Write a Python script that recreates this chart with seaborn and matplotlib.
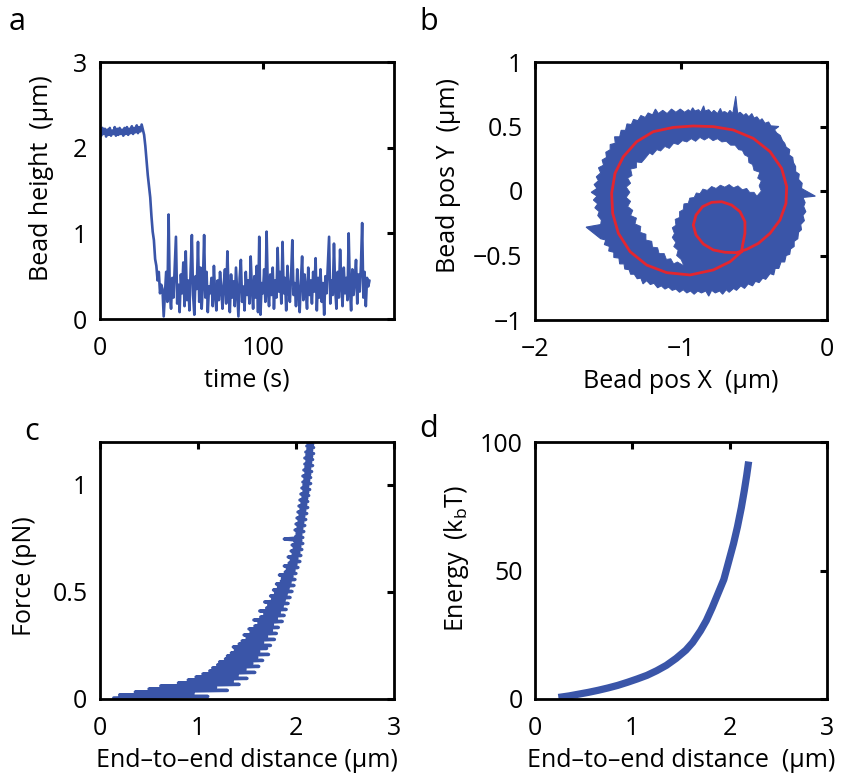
import numpy as np
import pandas as pd
import matplotlib
matplotlib.use("Agg")
import matplotlib.pyplot as plt
import seaborn as sns
from matplotlib.ticker import FixedLocator, FuncFormatter

# ---------------- data ----------------
# panel a: bead height (um), sampled every 0.75 s
a_dt = 0.75
a_plateau = [2.21, 2.14, 2.23, 2.16, 2.22, 2.13, 2.21, 2.15, 2.23, 2.14,
             2.20, 2.16, 2.24, 2.14, 2.22, 2.15, 2.23, 2.16, 2.21, 2.14,
             2.23, 2.16, 2.24, 2.15, 2.22, 2.17, 2.25, 2.16, 2.23, 2.18,
             2.26, 2.17, 2.24, 2.19, 2.27, 2.21]
a_drop = [2.15, 2.02, 1.85, 1.68, 1.55, 1.42, 1.20, 1.02, 0.92, 0.70,
          0.62, 0.45, 0.55, 0.30, 0.40]
a_bound = [0.35, 0.03, 0.28, 0.55, 0.20, 1.22, 0.30, 0.12, 0.48, 0.25,
           0.62, 0.96, 0.18, 0.40, 0.08, 0.52, 0.30, 0.66, 0.15, 0.79,
           0.22, 0.45, 0.10, 0.58, 0.98, 0.28, 0.05, 0.50, 0.35, 0.90,
           0.20, 0.60, 0.12, 0.42, 0.98, 0.25, 0.55, 0.08, 0.38, 0.30,
           0.48, 0.15, 0.62, 0.28, 0.10, 0.45, 0.22, 0.55, 0.35, 0.12,
           0.40, 0.58, 0.18, 0.79, 0.30, 0.08, 0.52, 0.25, 0.44, 0.15,
           0.60, 0.32, 0.03, 0.48, 0.69, 0.20, 0.38, 0.10, 0.55, 0.28,
           0.45, 0.18, 0.73, 0.35, 0.12, 0.50, 0.25, 0.62, 0.08, 0.96,
           0.05, 0.42, 0.30, 0.58, 0.20, 1.02, 0.35, 0.15, 0.52, 0.28,
           0.60, 0.12, 0.45, 0.25, 0.83, 0.32, 0.55, 0.18, 0.90, 0.30,
           0.48, 0.10, 0.62, 0.35, 0.20, 0.50, 0.92, 0.28, 0.42, 0.15,
           0.58, 0.30, 0.08, 0.45, 0.73, 0.22, 0.52, 0.35, 0.12, 0.60,
           0.28, 0.45, 0.18, 0.55, 0.32, 0.71, 0.10, 0.48, 0.25, 0.58,
           0.20, 0.42, 0.05, 0.50, 0.30, 0.62, 0.96, 0.18, 0.45, 0.28,
           0.88, 0.35, 0.12, 0.55, 0.25, 0.81, 0.40, 0.15, 0.60, 0.30,
           0.48, 0.22, 1.00, 0.35, 0.10, 0.58, 0.28, 0.45, 0.69, 0.18,
           0.52, 0.32, 0.62, 1.12, 0.25, 0.55, 0.15, 0.48, 0.38, 0.45]

# panel b: region swept by the bead (outer edge, inner hole) and fitted spiral (um)
b_outer = [(-0.95, 0.63), (-0.935, 0.615), (-0.92, 0.645), (-0.905, 0.62), (-0.88, 0.63),
           (-0.865, 0.61), (-0.845, 0.66), (-0.835, 0.62), (-0.81, 0.63), (-0.79, 0.605),
           (-0.775, 0.625), (-0.75, 0.60), (-0.73, 0.64), (-0.72, 0.61), (-0.70, 0.615),
           (-0.68, 0.60), (-0.665, 0.625), (-0.645, 0.60), (-0.625, 0.735), (-0.612, 0.60),
           (-0.595, 0.61), (-0.57, 0.585), (-0.555, 0.60), (-0.535, 0.575), (-0.515, 0.60),
           (-0.50, 0.565), (-0.48, 0.575), (-0.46, 0.545), (-0.445, 0.56), (-0.425, 0.525),
           (-0.40, 0.535), (-0.385, 0.505), (-0.33, 0.50), (-0.36, 0.475), (-0.345, 0.45),
           (-0.32, 0.43), (-0.305, 0.39), (-0.29, 0.37), (-0.28, 0.34), (-0.255, 0.32),
           (-0.26, 0.28), (-0.235, 0.26), (-0.23, 0.22), (-0.215, 0.19), (-0.215, 0.15),
           (-0.19, 0.13), (-0.195, 0.09), (-0.17, 0.06), (-0.175, 0.02), (-0.08, -0.04),
           (-0.165, -0.05), (-0.15, -0.09), (-0.16, -0.12), (-0.145, -0.16), (-0.165, -0.19),
           (-0.155, -0.23), (-0.18, -0.26), (-0.175, -0.30), (-0.195, -0.32), (-0.20, -0.37),
           (-0.225, -0.39), (-0.225, -0.43), (-0.25, -0.45), (-0.255, -0.49), (-0.28, -0.50),
           (-0.29, -0.55), (-0.315, -0.55), (-0.33, -0.60), (-0.355, -0.60), (-0.365, -0.65),
           (-0.39, -0.64), (-0.42, -0.685), (-0.44, -0.675), (-0.465, -0.71), (-0.49, -0.70),
           (-0.51, -0.735), (-0.54, -0.72), (-0.565, -0.755), (-0.59, -0.735), (-0.62, -0.77),
           (-0.64, -0.755), (-0.67, -0.785), (-0.69, -0.765), (-0.715, -0.80), (-0.735, -0.775),
           (-0.765, -0.79), (-0.79, -0.77), (-0.81, -0.815), (-0.83, -0.775), (-0.86, -0.79),
           (-0.885, -0.775), (-0.91, -0.80), (-0.935, -0.775), (-0.96, -0.79), (-0.985, -0.765),
           (-1.01, -0.785), (-1.035, -0.76), (-1.06, -0.77), (-1.085, -0.745), (-1.11, -0.76),
           (-1.135, -0.735), (-1.16, -0.75), (-1.185, -0.715), (-1.21, -0.725), (-1.235, -0.695),
           (-1.26, -0.72), (-1.275, -0.675), (-1.30, -0.68), (-1.32, -0.645), (-1.345, -0.645),
           (-1.355, -0.61), (-1.385, -0.605), (-1.39, -0.565), (-1.42, -0.565), (-1.425, -0.52),
           (-1.46, -0.515), (-1.46, -0.475), (-1.495, -0.465), (-1.49, -0.43), (-1.525, -0.415),
           (-1.515, -0.38), (-1.55, -0.37), (-1.65, -0.28), (-1.55, -0.26), (-1.545, -0.225),
           (-1.57, -0.19), (-1.56, -0.16), (-1.59, -0.13), (-1.57, -0.10), (-1.60, -0.07),
           (-1.575, -0.04), (-1.615, -0.01), (-1.575, 0.02), (-1.595, 0.05), (-1.565, 0.08),
           (-1.58, 0.11), (-1.55, 0.14), (-1.565, 0.18), (-1.53, 0.20), (-1.54, 0.24),
           (-1.51, 0.26), (-1.515, 0.30), (-1.485, 0.32), (-1.485, 0.36), (-1.45, 0.37),
           (-1.455, 0.42), (-1.42, 0.42), (-1.41, 0.47), (-1.38, 0.47), (-1.37, 0.52),
           (-1.34, 0.515), (-1.325, 0.555), (-1.295, 0.545), (-1.275, 0.585), (-1.245, 0.57),
           (-1.225, 0.605), (-1.195, 0.59), (-1.175, 0.635), (-1.155, 0.60), (-1.125, 0.625),
           (-1.095, 0.60), (-1.065, 0.635), (-1.035, 0.61), (-1.005, 0.635), (-0.975, 0.61)]
b_hole = [(-1.24, 0.26), (-1.215, 0.295), (-1.195, 0.28), (-1.165, 0.32), (-1.14, 0.31),
          (-1.11, 0.345), (-1.08, 0.33), (-1.05, 0.37), (-1.02, 0.36), (-0.99, 0.39),
          (-0.96, 0.38), (-0.93, 0.405), (-0.90, 0.385), (-0.87, 0.415), (-0.84, 0.395),
          (-0.81, 0.415), (-0.78, 0.39), (-0.75, 0.405), (-0.72, 0.38), (-0.69, 0.385),
          (-0.66, 0.355), (-0.63, 0.355), (-0.605, 0.32), (-0.58, 0.315), (-0.565, 0.28),
          (-0.54, 0.265), (-0.535, 0.22), (-0.51, 0.205), (-0.50, 0.16), (-0.46, 0.145),
          (-0.475, 0.10), (-0.45, 0.08), (-0.465, 0.04), (-0.45, 0.00), (-0.48, -0.04),
          (-0.50, -0.01), (-0.53, -0.01), (-0.55, 0.02), (-0.58, 0.01), (-0.61, 0.04),
          (-0.64, 0.025), (-0.67, 0.05), (-0.70, 0.03), (-0.73, 0.045), (-0.76, 0.02),
          (-0.79, 0.035), (-0.82, 0.005), (-0.85, 0.015), (-0.87, -0.02), (-0.895, -0.015),
          (-0.91, -0.05), (-0.94, -0.055), (-0.95, -0.095), (-0.98, -0.10), (-0.985, -0.145),
          (-1.01, -0.16), (-1.01, -0.205), (-1.04, -0.22), (-1.035, -0.265), (-1.06, -0.285),
          (-1.045, -0.33), (-1.06, -0.36), (-1.035, -0.40), (-1.05, -0.43), (-1.02, -0.46),
          (-1.03, -0.50), (-1.00, -0.53), (-0.98, -0.58), (-1.025, -0.55), (-1.05, -0.565),
          (-1.07, -0.525), (-1.10, -0.53), (-1.115, -0.485), (-1.15, -0.485), (-1.16, -0.44),
          (-1.195, -0.435), (-1.20, -0.39), (-1.24, -0.38), (-1.24, -0.335), (-1.28, -0.32),
          (-1.275, -0.275), (-1.315, -0.255), (-1.305, -0.21), (-1.345, -0.19), (-1.33, -0.15),
          (-1.365, -0.12), (-1.345, -0.08), (-1.375, -0.05), (-1.35, -0.01), (-1.375, 0.03),
          (-1.345, 0.06), (-1.365, 0.10), (-1.335, 0.12), (-1.345, 0.17), (-1.305, 0.18),
          (-1.305, 0.225), (-1.27, 0.22)]
b_fit_x = [-0.585, -0.664, -0.779, -0.938, -1.098, -1.235, -1.349, -1.429, -1.468, -1.475,
           -1.452, -1.395, -1.304, -1.190, -1.053, -0.916, -0.779, -0.642, -0.505, -0.390,
           -0.311, -0.276, -0.281, -0.322, -0.390, -0.470, -0.550, -0.619, -0.699, -0.779,
           -0.847, -0.897, -0.916, -0.897, -0.852, -0.790, -0.721, -0.653, -0.596, -0.562,
           -0.562, -0.578, -0.585]
b_fit_y = [-0.470, -0.548, -0.612, -0.651, -0.633, -0.574, -0.470, -0.328, -0.173, -0.018,
           0.137, 0.266, 0.382, 0.460, 0.493, 0.504, 0.499, 0.473, 0.408, 0.305,
           0.176, 0.034, -0.096, -0.225, -0.328, -0.406, -0.452, -0.478, -0.475, -0.457,
           -0.411, -0.341, -0.264, -0.186, -0.121, -0.088, -0.083, -0.109, -0.160, -0.238,
           -0.328, -0.419, -0.470]

# panel c: end-to-end distance (um) for forces stepping 0.005 .. 1.195 pN
c_f_start, c_f_step = 0.005, 0.007
c_dist = [0.14, 1.10, 0.20, 0.95, 0.36, 1.30, 0.50, 1.18, 0.62, 1.42,
          0.80, 1.35, 0.90, 1.50, 0.98, 1.40, 1.05, 1.58, 1.12, 1.48,
          1.15, 1.62, 1.20, 1.55, 1.22, 1.66, 1.28, 1.60, 1.30, 1.72,
          1.34, 1.62, 1.38, 1.70, 1.36, 1.74, 1.42, 1.66, 1.45, 1.78,
          1.50, 1.70, 1.47, 1.80, 1.54, 1.75, 1.52, 1.82, 1.58, 1.76,
          1.62, 1.86, 1.57, 1.80, 1.64, 1.88, 1.68, 1.83, 1.63, 1.90,
          1.70, 1.86, 1.72, 1.92, 1.68, 1.88, 1.76, 1.94, 1.74, 1.90,
          1.79, 1.96, 1.77, 1.92, 1.82, 1.98, 1.80, 1.94, 1.85, 1.99,
          1.86, 1.96, 1.83, 2.00, 1.89, 1.98, 1.91, 2.02, 1.88, 2.00,
          1.93, 2.04, 1.95, 2.01, 1.92, 2.05, 1.97, 2.03, 1.95, 2.06,
          1.98, 2.04, 1.96, 2.07, 1.99, 2.05, 1.88, 2.07, 2.00, 2.05,
          2.01, 2.08, 1.99, 2.06, 2.02, 2.09, 2.00, 2.07, 2.03, 2.10,
          2.01, 2.08, 2.04, 2.11, 2.02, 2.09, 2.05, 2.12, 2.03, 2.10,
          2.06, 2.12, 2.04, 2.11, 2.07, 2.13, 2.05, 2.12, 2.08, 2.14,
          2.06, 2.12, 2.08, 2.15, 2.07, 2.13, 2.09, 2.15, 2.07, 2.14,
          2.10, 2.16, 2.08, 2.14, 2.10, 2.17, 2.09, 2.15, 2.11, 2.17,
          2.09, 2.16, 2.11, 2.18, 2.10, 2.16, 2.12, 2.18, 2.11, 2.17, 2.12]

# panel d: energy (kbT) vs end-to-end distance (um)
d_dist = [0.24, 0.35, 0.45, 0.55, 0.65, 0.75, 0.85, 0.95, 1.05, 1.15,
          1.25, 1.35, 1.45, 1.55, 1.62, 1.70, 1.76, 1.82, 1.88, 1.94,
          1.99, 2.04, 2.08, 2.12, 2.15, 2.175, 2.195]
d_energy = [0.6, 1.2, 1.9, 2.6, 3.4, 4.3, 5.3, 6.5, 7.8, 9.2,
            11.0, 13.1, 15.8, 19.0, 22.0, 26.5, 30.5, 35.5, 41.0, 46.5,
            53.5, 60.5, 67.0, 74.5, 81.0, 87.0, 92.4]

# ticks
a_xticks, a_yticks = [0, 100], [0, 1, 2, 3]
b_xticks, b_yticks = [-2, -1, 0], [-1, -0.5, 0, 0.5, 1]
c_xticks, c_yticks = [0, 1, 2, 3], [0, 0.5, 1]
d_xticks, d_yticks = [0, 1, 2, 3], [0, 50, 100]

BLUE = "#3A55A8"
RED = "#E3262F"

# ---------------- style ----------------
sns.set_theme(style="white")
FONT = "Open Sans"
plt.rcParams["font.family"] = [FONT, "DejaVu Sans"]
plt.rcParams["mathtext.fontset"] = "custom"
plt.rcParams["mathtext.rm"] = FONT
plt.rcParams["mathtext.it"] = FONT
plt.rcParams["axes.unicode_minus"] = True

fig = plt.figure(figsize=(8.51, 7.84), dpi=100)
W, H = 851.0, 784.0


def make_ax(left, top, right, bottom):
    return fig.add_axes([left / W, 1 - bottom / H, (right - left) / W, (bottom - top) / H])


fmt = FuncFormatter(lambda v, p: ("%g" % v).replace("-", "\u2212"))


def style(ax, xlim, ylim, xt, yt, xlab, ylab, xl_y, yl_x, yl_y):
    ax.set_xlim(*xlim)
    ax.set_ylim(*ylim)
    ax.xaxis.set_major_locator(FixedLocator(xt))
    ax.yaxis.set_major_locator(FixedLocator(yt))
    ax.xaxis.set_major_formatter(fmt)
    ax.yaxis.set_major_formatter(fmt)
    ax.tick_params(axis="both", which="major", direction="in", length=5, width=2.2,
                   top=True, right=True, labelsize=18, colors="black")
    ax.tick_params(axis="x", pad=12)
    ax.tick_params(axis="y", pad=9)
    for s in ax.spines.values():
        s.set_visible(True)
        s.set_linewidth(2.0)
        s.set_color("black")
    ax.grid(False)
    ax.set_xlabel(xlab, fontsize=18, color="black")
    ax.set_ylabel(ylab, fontsize=18, color="black")
    ax.xaxis.set_label_coords(0.5, xl_y)
    ax.yaxis.set_label_coords(yl_x, yl_y)
    ax.set_facecolor("white")


# panel a
axA = make_ax(100, 62, 394, 319)
a_height = a_plateau + a_drop + a_bound
a_time = np.arange(len(a_height)) * a_dt
dfA = pd.DataFrame({"time": a_time, "height": a_height})
sns.lineplot(data=dfA, x="time", y="height", ax=axA, color=BLUE, lw=1.9,
             estimator=None, sort=False)
style(axA, (0, 180), (0, 3), a_xticks, a_yticks, "time (s)",
      "Bead height  (\u03bcm)", -0.19, -0.155, 0.55)

# panel b
axB = make_ax(535, 62, 827, 320)
ox, oy = zip(*b_outer)
hx, hy = zip(*b_hole)
axB.fill(ox, oy, color=BLUE, lw=0.8, zorder=1)
axB.fill(hx, hy, color="white", ec=BLUE, lw=0.6, zorder=2)
dfB = pd.DataFrame({"x": b_fit_x, "y": b_fit_y})
sns.lineplot(data=dfB, x="x", y="y", ax=axB, color=RED, lw=2.0,
             estimator=None, sort=False, zorder=3)
style(axB, (-2, 0), (-1, 1), b_xticks, b_yticks, "Bead pos X  (\u03bcm)",
      "Bead pos Y  (\u03bcm)", -0.19, -0.255, 0.56)

# panel c
axC = make_ax(100, 442, 394, 699)
c_force = c_f_start + c_f_step * np.arange(len(c_dist))
dfC = pd.DataFrame({"dist": c_dist, "force": c_force})
sns.lineplot(data=dfC, x="dist", y="force", ax=axC, color=BLUE, lw=2.4,
             estimator=None, sort=False)
style(axC, (0, 3), (0, 1.2), c_xticks, c_yticks, "End\u2013to\u2013end distance (\u03bcm)",
      "Force (pN)", -0.19, -0.215, 0.48)

# panel d
axD = make_ax(535, 442, 827, 699)
dfD = pd.DataFrame({"dist": d_dist, "energy": d_energy})
sns.lineplot(data=dfD, x="dist", y="energy", ax=axD, color=BLUE, lw=5.2,
             estimator=None, sort=False)
for ln in axD.lines:
    ln.set_solid_capstyle("butt")
    ln.set_solid_joinstyle("round")
style(axD, (0, 3), (0, 100), d_xticks, d_yticks, "End\u2013to\u2013end distance  (\u03bcm)",
      "Energy  (k$_{\\mathrm{b}}$T)", -0.19, -0.22, 0.545)

# panel letters
for lab, x, y in [("a", 9, 30), ("b", 419, 30), ("c", 24, 440), ("d", 419, 437)]:
    fig.text(x / W, 1 - y / H, lab, fontsize=22, color="black", ha="left", va="baseline")

fig.savefig("out.png", dpi=100, facecolor="white")
